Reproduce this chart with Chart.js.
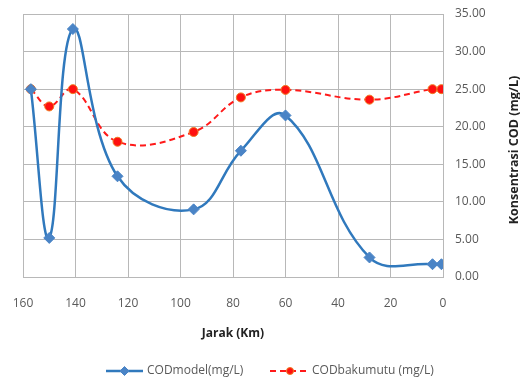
<!DOCTYPE html>
<html>
<head>
<meta charset="utf-8">
<script src="https://cdn.jsdelivr.net/npm/chart.js@4.4.1/dist/chart.umd.min.js"></script>
<style>
  html, body { margin: 0; padding: 0; background: #ffffff; }
  #wrap { width: 520px; height: 379px; position: relative; }
</style>
</head>
<body>
<div id="wrap"><canvas id="c" width="520" height="379"></canvas></div>
<script>
// Distance along the river (km) for each sampling station
const jarak = [157, 150, 141, 124, 95, 77, 60, 28, 4, 0.6];
// COD from the model (mg/L)
const codModel = [25.0, 5.2, 33.0, 13.4, 9.0, 16.8, 21.5, 2.6, 1.7, 1.7];
// COD quality standard (mg/L)
const codBakumutu = [25.0, 22.7, 25.0, 18.0, 19.3, 23.9, 24.9, 23.6, 25.0, 25.0];

const seriesLabels = ['CODmodel(mg/L)', 'CODbakumutu (mg/L)'];
const xTicks = [160, 140, 120, 100, 80, 60, 40, 20, 0];
const yTicks = [0, 5, 10, 15, 20, 25, 30, 35];
const xTitle = 'Jarak (Km)';
const yTitle = 'Konsentrasi COD (mg/L)';

const FONT = "'Open Sans', 'Liberation Sans', sans-serif";
const TEXT = '#595959';
const GRID = '#b8b8b8';
const BLUE = '#3079bd';
const BLUE_MARK = '#4a84c6';
const RED = '#ff1a1a';
const NONE = 'rgba(0,0,0,0)';

const toXY = (ys) => jarak.map((x, i) => ({ x, y: ys[i] }));

// Draws the rotated y-axis title and the legend under the chart
const extras = {
  id: 'extras',
  afterDraw(chart) {
    const ctx = chart.ctx;
    ctx.save();
    ctx.fillStyle = '#222';
    ctx.font = 'bold 12.5px ' + FONT;
    ctx.textAlign = 'center';
    ctx.textBaseline = 'middle';
    ctx.translate(514, 150);
    ctx.rotate(-Math.PI / 2);
    ctx.fillText(yTitle, 0, 0);
    ctx.restore();

    const ly = 371;
    const items = [
      { x0: 106, x1: 143, ds: chart.data.datasets[0], tx: 147 },
      { x0: 270, x1: 310, ds: chart.data.datasets[1], tx: 312 }
    ];
    items.forEach(it => {
      ctx.save();
      ctx.strokeStyle = it.ds.borderColor;
      ctx.lineWidth = it.ds.borderWidth;
      ctx.setLineDash(it.ds.borderDash || []);
      ctx.beginPath();
      ctx.moveTo(it.x0, ly);
      ctx.lineTo(it.x1, ly);
      ctx.stroke();
      ctx.setLineDash([]);
      const cx = (it.x0 + it.x1) / 2;
      ctx.fillStyle = it.ds.pointBackgroundColor;
      ctx.strokeStyle = it.ds.pointBorderColor;
      ctx.lineWidth = 1;
      ctx.beginPath();
      if (it.ds.pointStyle === 'rectRot') {
        const r = 4.5;
        ctx.moveTo(cx, ly - r); ctx.lineTo(cx + r, ly); ctx.lineTo(cx, ly + r); ctx.lineTo(cx - r, ly); ctx.closePath();
      } else {
        ctx.arc(cx, ly, 3.5, 0, Math.PI * 2);
      }
      ctx.fill();
      ctx.stroke();
      ctx.fillStyle = TEXT;
      ctx.font = '12px ' + FONT;
      ctx.textAlign = 'left';
      ctx.textBaseline = 'middle';
      ctx.fillText(it.ds.label, it.tx, ly);
      ctx.restore();
    });
  }
};

new Chart(document.getElementById('c'), {
  type: 'line',
  data: {
    datasets: [
      {
        label: seriesLabels[0],
        data: toXY(codModel),
        borderColor: BLUE,
        borderWidth: 2.5,
        tension: 0.4,
        pointStyle: 'rectRot',
        pointRadius: 5.5,
        pointBackgroundColor: BLUE_MARK,
        pointBorderColor: BLUE_MARK,
        pointBorderWidth: 1,
        fill: false
      },
      {
        label: seriesLabels[1],
        data: toXY(codBakumutu),
        borderColor: RED,
        borderWidth: 2,
        borderDash: [6, 4],
        tension: 0.4,
        pointStyle: 'circle',
        pointRadius: 4.5,
        pointBackgroundColor: '#ff1010',
        pointBorderColor: '#f07a20',
        pointBorderWidth: 1,
        fill: false
      }
    ]
  },
  options: {
    responsive: false,
    animation: false,
    events: [],
    layout: { autoPadding: false, padding: { left: 23, right: 0, top: 14, bottom: 32 } },
    plugins: { legend: { display: false }, tooltip: { enabled: false } },
    scales: {
      x: {
        type: 'linear',
        position: 'bottom',
        reverse: true,
        min: 0,
        max: 160,
        afterBuildTicks: (s) => { s.ticks = xTicks.map(v => ({ value: v })); },
        afterFit: (s) => { s.height = 70; },
        // invisible tick marks keep the labels clear of the plot
        grid: { color: GRID, lineWidth: 1, drawTicks: true, tickLength: 19, tickColor: NONE },
        border: { color: GRID, width: 1 },
        ticks: { color: TEXT, font: { family: FONT, size: 12 }, padding: 0, maxRotation: 0 },
        title: { display: true, text: xTitle, color: '#222', font: { family: FONT, size: 12, weight: 'bold' }, padding: { top: 4, bottom: 6 } }
      },
      y: {
        type: 'linear',
        position: 'right',
        min: 0,
        max: 35,
        afterBuildTicks: (s) => { s.ticks = yTicks.map(v => ({ value: v })); },
        afterFit: (s) => { s.width = 77; },
        grid: { color: GRID, lineWidth: 1, drawTicks: true, tickLength: 12, tickColor: NONE },
        border: { color: GRID, width: 1 },
        ticks: { color: TEXT, font: { family: FONT, size: 12 }, padding: 0, callback: (v) => Number(v).toFixed(2) }
      }
    }
  },
  plugins: [extras]
});
</script>
</body>
</html>
